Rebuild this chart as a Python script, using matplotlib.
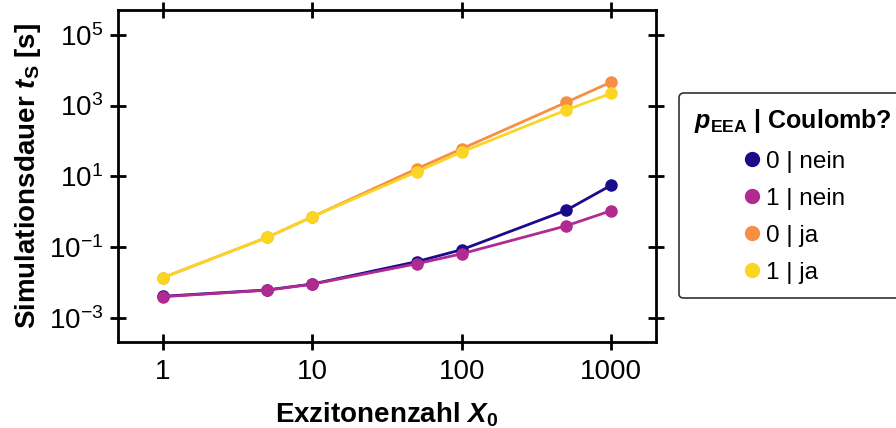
import numpy as np
import matplotlib
matplotlib.use("Agg")
import matplotlib.pyplot as plt
from matplotlib.lines import Line2D

plt.rcParams["font.family"] = ["Liberation Sans", "DejaVu Sans"]
plt.rcParams["mathtext.fontset"] = "custom"
plt.rcParams["mathtext.rm"] = "Liberation Sans"
plt.rcParams["mathtext.it"] = "Liberation Sans:italic"
plt.rcParams["mathtext.bf"] = "Liberation Sans:bold"
plt.rcParams["mathtext.bfit"] = "Liberation Sans:bold:italic"

# number of excitons and simulation runtimes in seconds
x0 = [1, 5, 10, 50, 100, 500, 1000]
t_p0_nein = [0.0041, 0.0062, 0.0091, 0.039, 0.085, 1.1, 5.6]
t_p1_nein = [0.0040, 0.0061, 0.0090, 0.034, 0.065, 0.40, 1.07]
t_p0_ja = [0.0138, 0.19, 0.72, 16.4, 60, 1230, 4600]
t_p1_ja = [0.0138, 0.19, 0.72, 13.5, 49, 750, 2200]

labels = ["0 | nein", "1 | nein", "0 | ja", "1 | ja"]
colors = ["#1a0b8c", "#b02a90", "#f68f44", "#fbd524"]
series = [t_p0_nein, t_p1_nein, t_p0_ja, t_p1_ja]

fig = plt.figure(figsize=(8.96, 4.28), dpi=100)
ax = fig.add_axes([0.1317, 0.201, 0.6005, 0.7756])

for y, c, lab in zip(series, colors, labels):
    ax.plot(x0, y, "-o", color=c, lw=2, ms=8, label=lab)

ax.set_xscale("log")
ax.set_yscale("log")
ax.set_xlim(0.5, 2000)
ax.set_ylim(2.1e-4, 5e5)
ax.set_xticks([1, 10, 100, 1000], ["1", "10", "100", "1000"])
ax.set_yticks([1e-3, 1e-1, 1e1, 1e3, 1e5])
ax.minorticks_off()
ax.tick_params(which="major", direction="inout", length=11, width=2,
               top=True, right=True, labelsize=20, pad=5)
ax.tick_params(axis="x", pad=7)
for s in ax.spines.values():
    s.set_linewidth(2)

ax.set_xlabel(r"Exzitonenzahl $\mathbfit{X}_\mathbf{0}$", fontsize=20,
              fontweight="bold", labelpad=11)
ax.set_ylabel(r"Simulationsdauer $\mathbfit{t}_\mathbf{S}$ [s]", fontsize=20,
              fontweight="bold", labelpad=4)

handles = [Line2D([], [], marker="o", ls="none", color=c, ms=10) for c in colors]
leg = fig.legend(handles, labels, loc="upper left",
                 bbox_to_anchor=(0.758, 0.783), fontsize=17.5,
                 title=r"$\mathbfit{p}_\mathbf{EEA}$ | Coulomb?",
                 title_fontproperties={"weight": "bold", "size": 18},
                 frameon=True, fancybox=True, handletextpad=0.1,
                 handlelength=1.0, labelspacing=0.62, borderpad=0.6,
                 borderaxespad=0)
leg.get_frame().set_edgecolor("black")
leg.get_frame().set_linewidth(1.2)

fig.savefig("out.png", dpi=100)
